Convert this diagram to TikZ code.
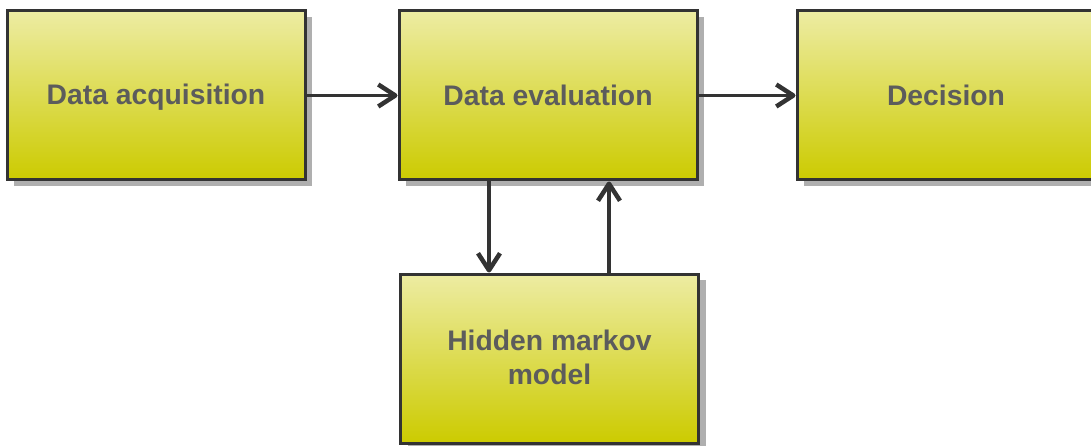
\documentclass[tikz,border=0pt]{standalone}
\usepackage{fontspec}
\setmainfont{Liberation Sans}
\usetikzlibrary{arrows.meta,shadows,calc}
\definecolor{boxtop}{HTML}{EDECA3}
\definecolor{boxbot}{HTML}{CCCB00}
\definecolor{edge}{HTML}{333333}
\definecolor{label}{HTML}{5C5C5C}
\definecolor{shade}{HTML}{AFAFAF}
% fixed line height so every label sits at the same place in its box
\newcommand{\linestrut}{\rule[-3pt]{0pt}{26pt}}
\tikzset{
  stage/.style={rectangle, draw=edge, line width=3pt,
    top color=boxtop, bottom color=boxbot,
    minimum width=298pt, minimum height=169pt, inner sep=0pt,
    align=center, text=label,
    font=\fontsize{28.3}{34}\selectfont\bfseries,
    execute at begin node=\linestrut,
    general shadow={fill=shade, shadow xshift=7pt, shadow yshift=-6pt}},
  flow/.style={draw=edge, line width=3.5pt,
    -{Straight Barb[length=17pt, width=22pt, line width=1pt 1, line join=round]}},
}
\begin{document}
\begin{tikzpicture}[x=1pt, y=-1pt]
  \useasboundingbox (0,0) rectangle (1091,446);
  \clip (0,0) rectangle (1091,446);
  \node[stage] (acq)  at (156,95.5)   {Data acquisition};
  \node[stage] (eval) at (548,95.5)   {Data evaluation};
  \node[stage] (dec)  at (946,95.5)   {Decision};
  \node[stage] (hmm)  at (549.5,358.5) {Hidden markov\\\linestrut model};
  \draw[flow] (acq.east) -- (eval.west);
  \draw[flow] (eval.east) -- (dec.west);
  \draw[flow] ($(eval.south)+(-59,0)$) -- ($(hmm.north)+(-60.5,0)$);
  \draw[flow] ($(hmm.north)+(59.5,0)$) -- ($(eval.south)+(61,0)$);
\end{tikzpicture}
\end{document}
